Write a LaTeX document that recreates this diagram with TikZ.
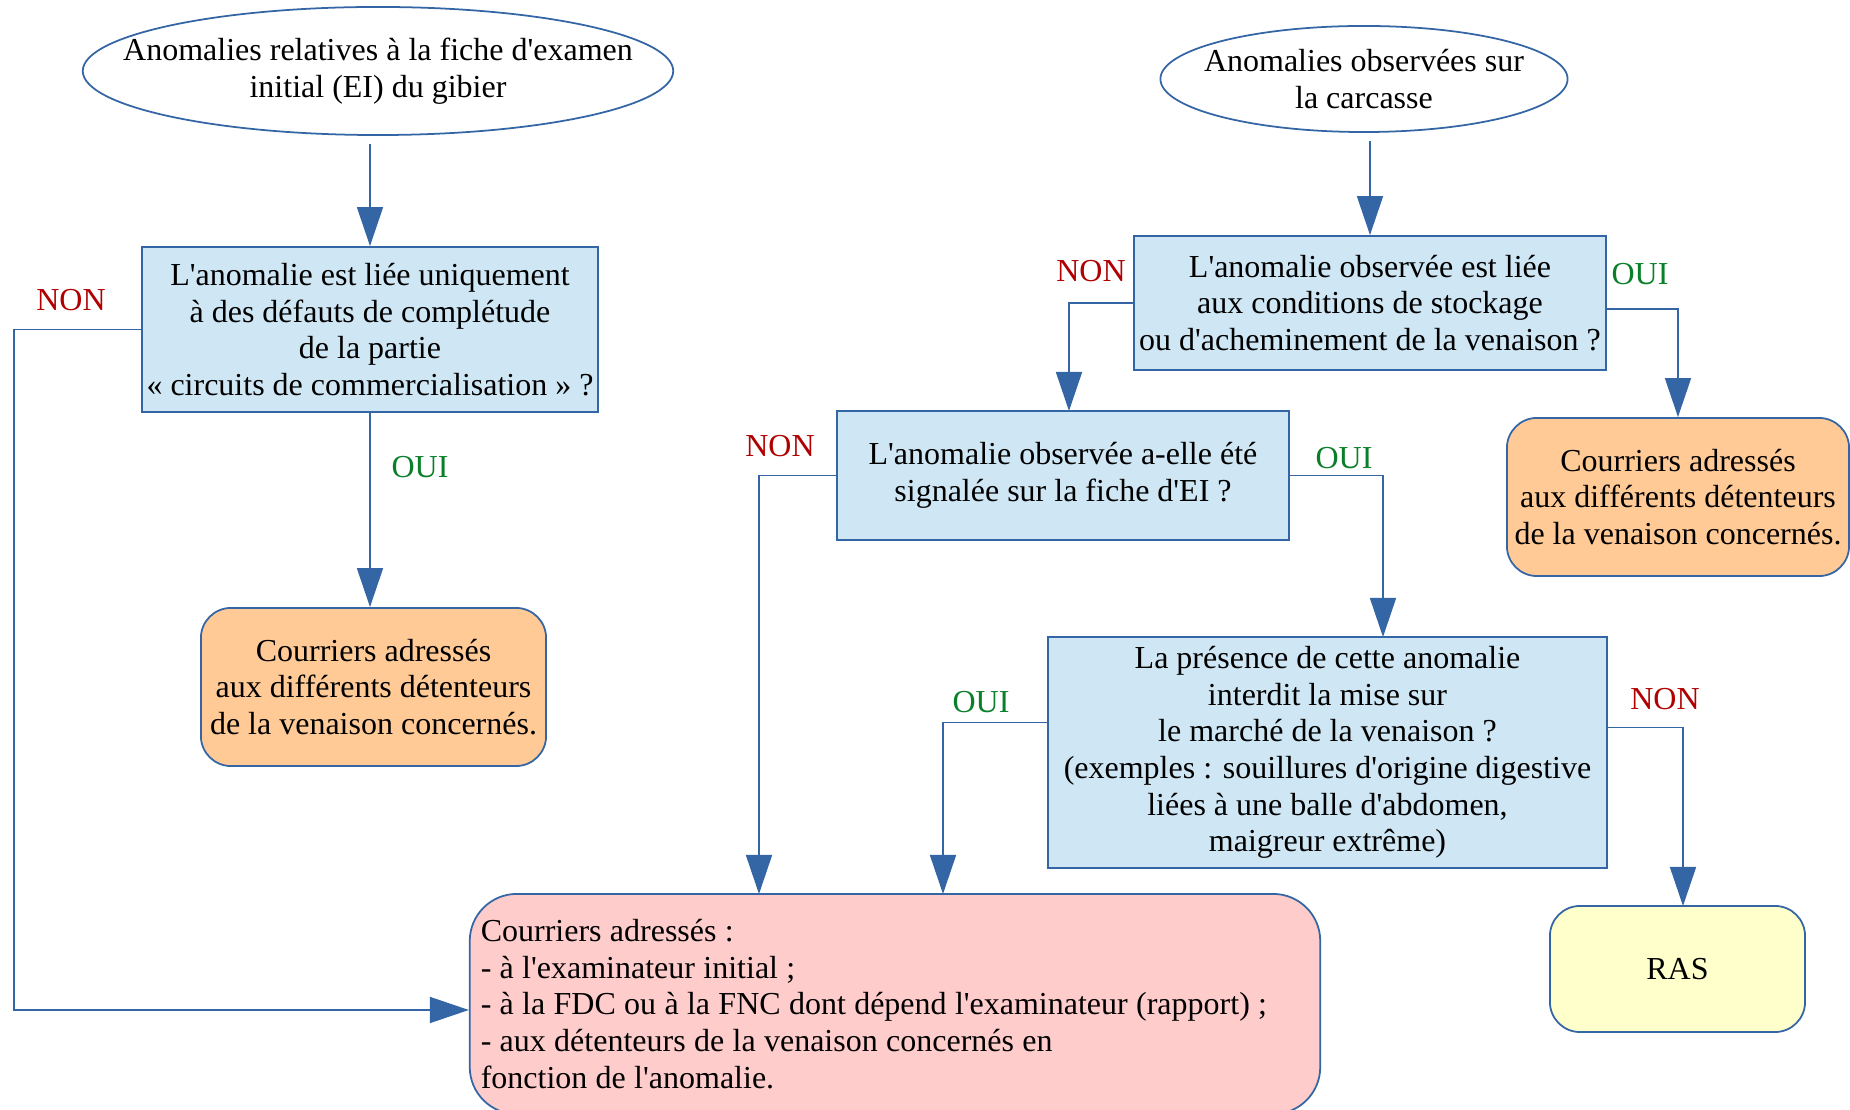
\documentclass[tikz,border=0pt]{standalone}
\usepackage{fontspec}
\setmainfont{Liberation Serif}[Ligatures=TeXOff]
\usepackage{tikz}
\usetikzlibrary{arrows.meta,shapes.geometric}

\definecolor{bleutrait}{HTML}{3465A4}
\definecolor{bleufond}{HTML}{CFE7F5}
\definecolor{orangefond}{HTML}{FFCA96}
\definecolor{rosefond}{HTML}{FFCCCC}
\definecolor{jaunefond}{HTML}{FFFFCC}
\definecolor{rougenon}{HTML}{B00000}
\definecolor{vertoui}{HTML}{0A7F2A}

\tikzset{
  depart/.style={ellipse, draw=bleutrait, line width=0.5pt, align=center, inner ysep=0pt},
  question/.style={rectangle, draw=bleutrait, fill=bleufond, line width=0.5pt, align=center, inner sep=0pt},
  courrier/.style={rectangle, rounded corners=3mm, draw=bleutrait, fill=orangefond, line width=0.5pt, align=center, inner sep=0pt},
  fleche/.style={draw=bleutrait, line width=0.45pt, -{Triangle[length=3.9mm,width=2.6mm]}},
  non/.style={text=rougenon},
  oui/.style={text=vertoui}
}

\begin{document}
\begin{tikzpicture}[x=0.01cm, y=-0.01cm, font=\fontsize{9.1}{10.4}\selectfont]

\useasboundingbox (0,0) rectangle (1850,1110);
\clip (0,0) rectangle (1850,1110);

\node[depart, inner xsep=-0.46cm, minimum width=5.9cm, minimum height=1.28cm] (debutEI) at (378,71)
    {Anomalies relatives à la fiche d'examen\\initial (EI) du gibier};
\node[depart, inner xsep=-0.16cm, minimum width=4.06cm, minimum height=1.06cm] (debutC) at (1364,79)
    {Anomalies observées sur\\la carcasse};

\node[question, minimum width=4.56cm, minimum height=1.65cm] (q1) at (370,329.5)
    {L'anomalie est liée uniquement\\à des défauts de complétude\\de la partie\\« circuits de commercialisation » ?};
\node[question, minimum width=4.72cm, minimum height=1.34cm] (q2) at (1370,303)
    {L'anomalie observée est liée\\aux conditions de stockage\\ou d'acheminement de la venaison ?};
\node[question, minimum width=4.52cm, minimum height=1.29cm] (q3) at (1063,475.5)
    {L'anomalie observée a-elle été\\signalée sur la fiche d'EI ?};
\node[question, minimum width=5.59cm, minimum height=2.31cm] (q4) at (1327.5,752.5)
    {La présence de cette anomalie\\interdit la mise sur\\le marché de la venaison ?\\(exemples : souillures d'origine digestive\\liées à une balle d'abdomen,\\maigreur extrême)};

\node[courrier, minimum width=3.45cm, minimum height=1.58cm] (lettreA) at (373.5,687)
    {Courriers adressés\\aux différents détenteurs\\de la venaison concernés.};
\node[courrier, minimum width=3.42cm, minimum height=1.58cm] (lettreB) at (1678,497)
    {Courriers adressés\\aux différents détenteurs\\de la venaison concernés.};
\node[courrier, fill=rosefond, rounded corners=4.7mm, align=left, text width=8.28cm,
      inner xsep=0.11cm, minimum height=2.2cm, execute at begin node={\spaceskip=0.26em\relax}] (lettreC) at (895,1004)
    {Courriers adressés :\\- à l'examinateur initial ;\\- à la FDC ou à la FNC dont dépend l'examinateur (rapport) ;\\- aux détenteurs de la venaison concernés en\\fonction de l'anomalie.};
\node[courrier, fill=jaunefond, minimum width=2.55cm, minimum height=1.26cm] (ras) at (1677.5,969) {RAS};

\coordinate (coin1) at (14,1010);
\coordinate (entree1) at (759,894);
\coordinate (entree2) at (943,894);
\coordinate (entree3) at (1383,637);
\coordinate (entree4) at (1069,411);
\coordinate (entree5) at (1683,906);

\foreach \i/\x/\y in {1/71/300, 2/1091/271, 3/780/446, 4/1665/699}
    \node[non] (non\i) at (\x,\y) {NON};
\foreach \i/\x/\y in {1/420/467, 2/1640/274, 3/1344/458, 4/981/702}
    \node[oui] (oui\i) at (\x,\y) {OUI};

\draw[fleche, shorten <=0.8mm] (q1.north |- debutEI.south) -- (q1.north);
\draw[fleche, shorten <=0.8mm] (q2.north |- debutC.south) -- (q2.north);
\draw[fleche] (q1.south) -- (q1.south |- lettreA.north);
\draw[fleche] (q1.west) -| (coin1) -- (lettreC.west |- coin1);
\draw[fleche] (q2.west) -| (entree4);
\draw[fleche] ([yshift=-0.6mm]q2.east) -| (lettreB.north);
\draw[fleche] (q3.west) -| (entree1);
\draw[fleche] (q3.east) -| (entree3);
\draw[fleche] ([yshift=3mm]q4.west) -| (entree2);
\draw[fleche] ([yshift=2.5mm]q4.east) -| (entree5);

\end{tikzpicture}
\end{document}
